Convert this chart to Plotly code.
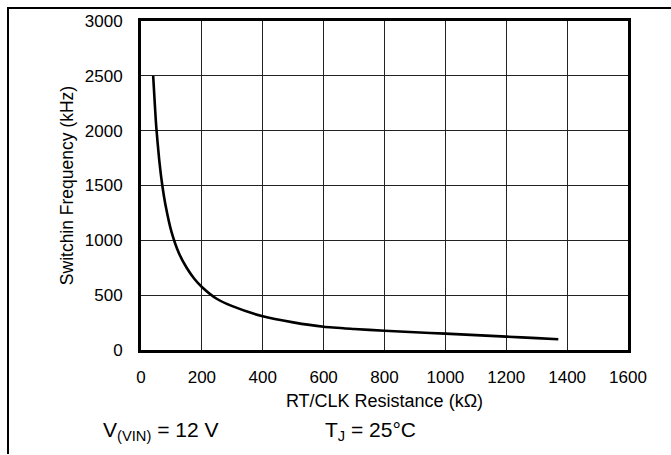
import plotly.graph_objects as go

# Data
resistance_kohm = [40, 50, 60, 70, 80, 100, 125, 150, 175, 200, 250, 300, 400,
                   500, 600, 700, 800, 900, 1000, 1100, 1200, 1300, 1371]
frequency_khz = [2500, 2040, 1730, 1500, 1330, 1080, 880, 750, 650, 575, 465, 400, 307,
                 252, 212, 192, 176, 162, 149, 136, 122, 108, 98]

x_ticks = [0, 200, 400, 600, 800, 1000, 1200, 1400, 1600]
y_ticks = [0, 500, 1000, 1500, 2000, 2500, 3000]

W, H = 671, 455
L, R, T, B = 141, 43, 18, 105
pw = W - L - R
ph = H - T - B

def px_x(p):
    return (p - L) / pw

def px_y(p):
    return (H - B - p) / ph

fig = go.Figure()
fig.add_trace(go.Scatter(x=resistance_kohm, y=frequency_khz, mode="lines",
                         line=dict(color="black", width=2.6, shape="spline", smoothing=0.6),
                         showlegend=False, hoverinfo="skip"))

font = "Liberation Sans, Arial, sans-serif"
axis_common = dict(showgrid=True, gridcolor="#222222", gridwidth=1,
                   showline=True, linecolor="black", linewidth=3, mirror=True,
                   zeroline=False, ticks="", tickfont=dict(family=font, size=17, color="black"))

fig.update_xaxes(range=[0, 1600], tickvals=x_ticks, ticktext=[str(v) for v in x_ticks],
                 title=dict(text="RT/CLK Resistance (kΩ)", font=dict(family=font, size=18, color="black"),
                            standoff=8),
                 ticklabelstandoff=10, **axis_common)
fig.update_yaxes(range=[0, 3000], tickvals=y_ticks, ticktext=[str(v) for v in y_ticks],
                 title=dict(text="Switchin Frequency (kHz)", font=dict(family=font, size=17.5, color="black"),
                            standoff=7),
                 ticklabelstandoff=12, **axis_common)

fig.add_annotation(xref="paper", yref="paper", x=px_x(101), y=px_y(432), xanchor="left", yanchor="middle",
                   text="V<sub>(VIN)</sub> = 12 V", showarrow=False,
                   font=dict(family=font, size=21, color="black"))
fig.add_annotation(xref="paper", yref="paper", x=px_x(323), y=px_y(432), xanchor="left", yanchor="middle",
                   text="T<sub>J</sub> = 25°C", showarrow=False,
                   font=dict(family=font, size=21, color="black"))

# figure frame lines (top and left)
fig.add_shape(type="line", xref="paper", yref="paper", x0=px_x(7), x1=px_x(671), y0=px_y(5), y1=px_y(5),
              line=dict(color="black", width=2))
fig.add_shape(type="line", xref="paper", yref="paper", x0=px_x(8), x1=px_x(8), y0=px_y(5), y1=px_y(455),
              line=dict(color="black", width=2))

fig.update_layout(width=W, height=H, margin=dict(l=L, r=R, t=T, b=B),
                  paper_bgcolor="white", plot_bgcolor="white",
                  font=dict(family=font, color="black"))

fig.write_html("out.html", config={"displayModeBar": False},
               post_script="document.body.style.margin='0';document.body.style.overflow='hidden';")
